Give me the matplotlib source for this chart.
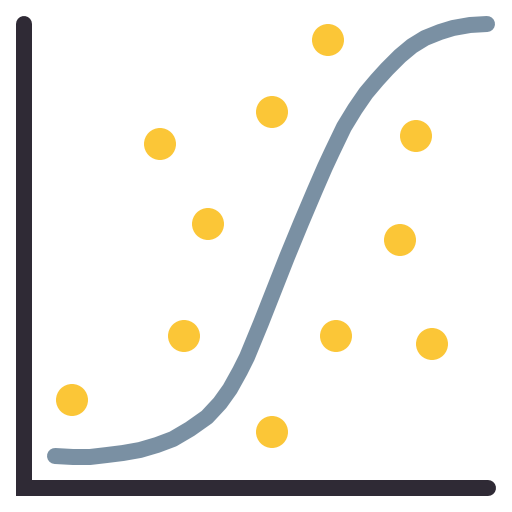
import matplotlib
matplotlib.use("Agg")
import matplotlib.pyplot as plt

# Scatter points (pixel-space data coordinates, y downwards)
dot_x = [328, 272, 160, 416, 208, 400, 184, 336, 432, 72, 272]
dot_y = [40, 112, 144, 136, 224, 240, 336, 336, 344, 400, 432]

# Sigmoid curve points
curve_x = [55, 73, 90, 107, 123, 140, 157, 173, 190, 207, 220, 230, 240, 247, 254, 261,
           274, 287, 301, 315, 325, 332, 344, 355, 366, 377, 387, 400, 412, 425, 440, 453, 470, 487]
curve_y = [456, 457, 457, 455, 453, 450, 445, 439, 429, 417, 403, 389, 371, 357, 340, 323,
           290, 257, 223, 190, 167, 152, 127, 109, 93, 80, 69, 56, 46, 38, 32, 28, 25, 24]

# Axis frame
axis_x = [24, 24, 488]
axis_y = [24, 488, 488]

fig = plt.figure(figsize=(5.12, 5.12), dpi=100)
ax = fig.add_axes([0, 0, 1, 1])
ax.set_xlim(0, 512)
ax.set_ylim(512, 0)
ax.axis("off")

px = 0.72  # points per pixel at dpi 100
ax.plot(axis_x, axis_y, color="#2F2A35", lw=16 * px, solid_capstyle="round", solid_joinstyle="miter")
ax.plot(curve_x, curve_y, color="#7A90A3", lw=16 * px, solid_capstyle="round", solid_joinstyle="round")
ax.scatter(dot_x, dot_y, s=(32 * px) ** 2, color="#FBC637", edgecolors="none", zorder=3)

fig.savefig("out.png", dpi=100)
